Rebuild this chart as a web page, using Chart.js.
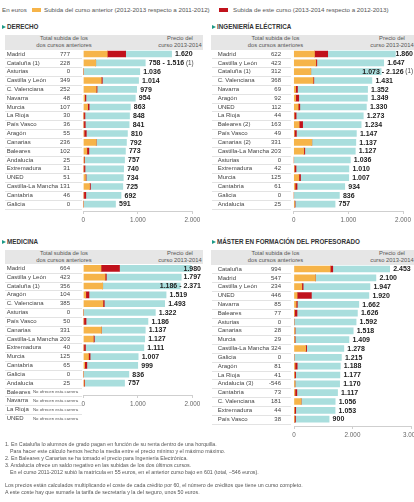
<!DOCTYPE html>
<html lang="es">
<head>
<meta charset="utf-8">
<title>Precios de matrícula</title>
<script src="https://cdn.jsdelivr.net/npm/chart.js@4.4.1/dist/chart.umd.min.js"></script>
<style>
    body { margin: 0; width: 414px; height: 502px; overflow: hidden; background: #fff; position: relative;
           font-family: "Liberation Sans", Arial, sans-serif; color: #555; }
    .t { position: absolute; white-space: nowrap; line-height: 1; }
    .leyenda { font-size: 6.2px; top: 7px; color: #555; }
    .muestra { position: absolute; top: 8px; width: 9px; height: 3.5px; }
    .titulo { font-size: 6.3px; font-weight: bold; color: #333; }
    .flecha { position: absolute; width: 0; height: 0; border-top: 2.5px solid transparent;
              border-bottom: 2.5px solid transparent; border-left: 4px solid #1e9a86; }
    .banda { position: absolute; background: #e6e6e6; }
    .cab { font-size: 5.8px; color: #555; text-align: center; }
    .panel { position: absolute; }
    .nota { font-size: 5.3px; color: #555; }
</style>
</head>
<body>

<div class="t leyenda" style="left:2px">En euros</div>
<div class="muestra" style="left:32px;background:#f6b449"></div>
<div class="t leyenda" style="left:44px">Subida del curso anterior (2012-2013 respecto a 2011-2012)</div>
<div class="muestra" style="left:219px;background:#c1121c"></div>
<div class="t leyenda" style="left:233px">Subida de este curso (2013-2014 respecto a 2012-2013)</div>

<div class="flecha" style="left:2px;top:24.5px"></div>
<div class="t titulo" style="left:7px;top:24px">DERECHO</div>
<div class="flecha" style="left:212px;top:24.5px"></div>
<div class="t titulo" style="left:217px;top:24px">INGENIERÍA ELÉCTRICA</div>
<div class="flecha" style="left:2px;top:239.5px"></div>
<div class="t titulo" style="left:7px;top:239px">MEDICINA</div>
<div class="flecha" style="left:212px;top:239.5px"></div>
<div class="t titulo" style="left:217px;top:239px">MÁSTER EN FORMACIÓN DEL PROFESORADO</div>

<div class="banda" style="left:5px;top:35px;width:198px;height:14.6px"></div>
<div class="banda" style="left:211px;top:35px;width:203px;height:14.6px"></div>
<div class="banda" style="left:5px;top:249.8px;width:198px;height:14.2px"></div>
<div class="banda" style="left:211px;top:249.8px;width:203px;height:14.8px"></div>

<div class="t cab" style="left:20px;top:36.2px;width:88px">Total subida de los</div>
<div class="t cab" style="left:20px;top:42.6px;width:88px">dos cursos anteriores</div>
<div class="t cab" style="left:150px;top:36.2px;width:60px">Precio del</div>
<div class="t cab" style="left:150px;top:42.6px;width:60px">curso 2013-2014</div>
<div class="t cab" style="left:231.5px;top:36.2px;width:88px">Total subida de los</div>
<div class="t cab" style="left:231.5px;top:42.6px;width:88px">dos cursos anteriores</div>
<div class="t cab" style="left:362px;top:36.2px;width:60px">Precio del</div>
<div class="t cab" style="left:362px;top:42.6px;width:60px">curso 2013-2014</div>

<div class="t cab" style="left:20px;top:251.2px;width:88px">Total subida de los</div>
<div class="t cab" style="left:20px;top:257.6px;width:88px">dos cursos anteriores</div>
<div class="t cab" style="left:150px;top:251.2px;width:60px">Precio del</div>
<div class="t cab" style="left:150px;top:257.6px;width:60px">curso 2013-2014</div>
<div class="t cab" style="left:231.5px;top:251.2px;width:88px">Total subida de los</div>
<div class="t cab" style="left:231.5px;top:257.6px;width:88px">dos cursos anteriores</div>
<div class="t cab" style="left:362px;top:251.2px;width:60px">Precio del</div>
<div class="t cab" style="left:362px;top:257.6px;width:60px">curso 2013-2014</div>

<canvas id="cDerecho" class="panel" width="207" height="183" style="left:0;top:46px"></canvas>
<canvas id="cIngenieria" class="panel" width="204" height="183" style="left:210px;top:46px"></canvas>
<canvas id="cMedicina" class="panel" width="207" height="163" style="left:0;top:260px"></canvas>
<canvas id="cMaster" class="panel" width="216" height="184" style="left:210px;top:260px"></canvas>

<div class="t nota" style="left:5px;top:441.6px">1. En Cataluña lo alumnos de grado pagan en función de su renta dentro de una horquilla.</div>
<div class="t nota" style="left:10px;top:448.6px">Para hacer este cálculo hemos hecho la media entre el precio mínimo y el máximo máximo.</div>
<div class="t nota" style="left:5px;top:456px">2. En Baleares y Canarias se ha tomado el precio para Ingeniería Electrónica.</div>
<div class="t nota" style="left:5px;top:463px">3. Andalucía ofrece un saldo negativo en las subidas de los dos últimos cursos.</div>
<div class="t nota" style="left:10px;top:470.3px">En el curso 2011-2012 subió la matrícula en 55 euros, en el anterior curso bajo en 601 (total, –546 euros).</div>
<div class="t nota" style="left:5px;top:483px">Los precios están calculados multiplicando el coste de cada crédito por 60, el número de créditos que tiene un curso completo.</div>
<div class="t nota" style="left:5px;top:490px">A este coste hay que sumarle la tarifa de secretaría y la del seguro, unos 50 euros.</div>

<script>
// ---- datos ----
var derechoRegiones = ['Madrid', 'Cataluña (1)', 'Asturias', 'Castilla y León', 'C. Valenciana', 'Navarra', 'Murcia', 'La Rioja', 'País Vasco', 'Aragón', 'Canarias', 'Baleares', 'Andalucía', 'Extremadura', 'UNED', 'Castilla-La Mancha', 'Cantabria', 'Galicia'];
var derechoSubidaTotal = [777, 228, 0, 349, 252, 48, 107, 30, 36, 55, 236, 102, 25, 31, 51, 131, 46, 0];
var derechoSubidaAnterior = [440, 228, 0, 330, 237, 25, 80, 5, 8, 15, 236, 65, 15, 8, 40, 115, 10, 0];
var derechoSubidaActual = [337, 0, 0, 19, 15, 23, 27, 25, 28, 40, 0, 37, 10, 23, 11, 16, 36, 0];
var derechoPrecio = [1620, 1137, 1036, 1014, 979, 954, 863, 848, 841, 810, 792, 773, 757, 740, 734, 725, 692, 591];
var derechoPrecioTexto = ['1.620', '758 - 1.516 (1)', '1.036', '1.014', '979', '954', '863', '848', '841', '810', '792', '773', '757', '740', '734', '725', '692', '591'];

var ingenieriaRegiones = ['Madrid', 'Castilla y León', 'Cataluña (1)', 'C. Valenciana', 'Navarra', 'Aragón', 'UNED', 'La Rioja', 'Baleares (2)', 'País Vasco', 'Canarias (2)', 'Castilla-La Mancha', 'Asturias', 'Extremadura', 'Murcia', 'Cantabria', 'Galicia', 'Andalucía'];
var ingenieriaSubidaTotal = [622, 423, 312, 368, 69, 92, 112, 44, 163, 49, 331, 203, 0, 42, 125, 61, 0, 25];
var ingenieriaSubidaAnterior = [380, 405, 312, 355, 35, 35, 82, 10, 100, 12, 331, 185, 0, 12, 95, 25, 0, 15];
var ingenieriaSubidaActual = [242, 18, 0, 13, 34, 57, 30, 34, 63, 37, 0, 18, 0, 30, 30, 36, 0, 10];
var ingenieriaPrecio = [1860, 1647, 1600, 1431, 1352, 1349, 1330, 1273, 1234, 1147, 1137, 1127, 1036, 1010, 1007, 934, 836, 757];
var ingenieriaPrecioTexto = ['1.860', '1.647', '1.073 - 2.126 (1)', '1.431', '1.352', '1.349', '1.330', '1.273', '1.234', '1.147', '1.137', '1.127', '1.036', '1.010', '1.007', '934', '836', '757'];

var medicinaRegiones = ['Madrid', 'Castilla y León', 'Cataluña (1)', 'Aragón', 'C. Valenciana', 'Asturias', 'País Vasco', 'Canarias', 'Castilla-La Mancha', 'Extremadura', 'Murcia', 'Cantabria', 'Galicia', 'Andalucía', 'Baleares', 'Navarra', 'La Rioja', 'UNED'];
var medicinaSubidaTotal = [664, 423, 356, 104, 385, 0, 50, 331, 203, 40, 125, 65, 0, 25, null, null, null, null];
var medicinaSubidaAnterior = [325, 400, 356, 45, 360, 0, 10, 331, 185, 10, 95, 25, 0, 15, null, null, null, null];
var medicinaSubidaActual = [339, 23, 0, 59, 25, 0, 40, 0, 18, 30, 30, 40, 0, 10, null, null, null, null];
var medicinaPrecio = [1980, 1797, 1779, 1519, 1493, 1322, 1186, 1137, 1127, 1111, 1007, 999, 836, 757, null, null, null, null];
var medicinaPrecioTexto = ['1.980', '1.797', '1.186 - 2.371', '1.519', '1.493', '1.322', '1.186', '1.137', '1.127', '1.111', '1.007', '999', '836', '757', '', '', '', ''];

var masterRegiones = ['Cataluña', 'Madrid', 'Castilla y León', 'UNED', 'Navarra', 'Baleares', 'Asturias', 'Canarias', 'Murcia', 'Castilla-La Mancha', 'Galicia', 'Aragón', 'La Rioja', 'Andalucía (3)', 'Cantabria', 'C. Valenciana', 'Extremadura', 'País Vasco'];
var masterSubidaTotal = [994, 547, 234, 446, 85, 77, 0, 28, 29, 324, 0, 81, 41, -546, 73, 181, 44, 38];
var masterSubidaAnterior = [930, 547, 200, 80, 55, 7, 0, 20, 5, 300, 0, 25, 10, 25, 25, 181, 10, 8];
var masterSubidaActual = [64, 0, 34, 366, 30, 70, 0, 8, 24, 24, 0, 56, 31, 0, 48, 0, 34, 30];
var masterPrecio = [2453, 2100, 1947, 1920, 1662, 1626, 1592, 1518, 1409, 1278, 1215, 1188, 1177, 1170, 1117, 1056, 1053, 900];
var masterPrecioTexto = ['2.453', '2.100', '1.947', '1.920', '1.662', '1.626', '1.592', '1.518', '1.409', '1.278', '1.215', '1.188', '1.177', '1.170', '1.117', '1.056', '1.053', '900'];

var ticksDosMil = [0, 1000, 2000];
var ticksDosMilTexto = ['0', '1.000', '2.000'];
var ticksMaster = [0, 1500, 3000];
var ticksMasterTexto = ['0', '2.000', '3.000'];

(function () {
    var COLOR_ANTERIOR = '#f6b449';
    var COLOR_ACTUAL = '#c1121c';
    var COLOR_PRECIO = '#a9dedd';
    var ALTO_FILA = 8.83;
    var FUENTE = '"Liberation Sans", Arial, sans-serif';

    var pluginTabla = {
        id: 'tabla',
        afterDraw: function (chart) {
            var op = chart.options.plugins.tabla;
            var ctx = chart.ctx;
            var escalaY = chart.scales.y;
            var escalaX = chart.scales.x;

            ctx.save();
            ctx.textBaseline = 'middle';

            op.regiones.forEach(function (region, i) {
                var py = escalaY.getPixelForValue(i);
                var linea = Math.round(py + ALTO_FILA / 2) + 0.5;

                ctx.strokeStyle = '#e3e3e3';
                ctx.lineWidth = 1;
                ctx.beginPath();
                ctx.moveTo(op.xLineaIni, linea);
                ctx.lineTo(op.xLineaFin, linea);
                ctx.stroke();

                ctx.fillStyle = '#444';
                ctx.font = '6px ' + FUENTE;
                ctx.textAlign = 'left';
                ctx.fillText(region, op.xNombre, py);

                if (op.totales[i] === null) {
                    ctx.font = '4.3px ' + FUENTE;
                    ctx.fillStyle = '#555';
                    ctx.fillText('No ofrecen esta carrera', op.xNoOfrece, py);
                    return;
                }

                ctx.textAlign = 'right';
                ctx.fillText(String(op.totales[i]), op.xTotal, py);

                var partes = op.textos[i].split(' (');
                var principal = partes[0];
                var nota = partes.length > 1 ? ' (' + partes[1] : '';

                ctx.font = 'bold 7px ' + FUENTE;
                var anchoP = ctx.measureText(principal).width;
                ctx.font = '6.3px ' + FUENTE;
                var anchoN = nota ? ctx.measureText(nota).width : 0;

                var px = escalaX.getPixelForValue(op.precios[i]) + 3.5;
                if (px + anchoP + anchoN > op.xMaxEtiqueta) {
                    px = op.xMaxEtiqueta - anchoP - anchoN;
                }

                ctx.textAlign = 'left';
                ctx.fillStyle = '#222';
                ctx.font = 'bold 7px ' + FUENTE;
                ctx.fillText(principal, px, py + 0.3);
                if (nota) {
                    ctx.fillStyle = '#444';
                    ctx.font = '6.3px ' + FUENTE;
                    ctx.fillText(nota, px + anchoP, py);
                }
            });

            ctx.restore();
        }
    };

    function puntos(valores) {
        var lista = [];
        valores.forEach(function (v, i) {
            if (v !== null) {
                lista.push({ x: v, y: i });
            }
        });
        return lista;
    }

    function crearPanel(idCanvas, regiones, totales, anterior, actual, precios, textos, ticks, ticksTexto, geo) {
        var canvas = document.getElementById(idCanvas);
        var altoArea = canvas.height - geo.padTop - geo.altoEje;

        var resto = precios.map(function (p, i) {
            return p === null ? null : p - anterior[i] - actual[i];
        });

        function serie(etiqueta, valores, color) {
            return {
                label: etiqueta,
                data: puntos(valores),
                backgroundColor: color,
                borderWidth: 0,
                barThickness: 6
            };
        }

        return new Chart(canvas.getContext('2d'), {
            type: 'bar',
            data: {
                datasets: [
                    serie('Subida del curso anterior', anterior, COLOR_ANTERIOR),
                    serie('Subida de este curso', actual, COLOR_ACTUAL),
                    serie('Precio del curso 2013-2014', resto, COLOR_PRECIO)
                ]
            },
            options: {
                indexAxis: 'y',
                responsive: false,
                animation: false,
                layout: {
                    padding: { top: geo.padTop, left: geo.padIzq, right: geo.padDer, bottom: 0 }
                },
                plugins: {
                    legend: { display: false },
                    tooltip: { enabled: false },
                    tabla: {
                        regiones: regiones,
                        totales: totales,
                        precios: precios,
                        textos: textos,
                        xNombre: geo.xNombre,
                        xTotal: geo.xTotal,
                        xLineaIni: geo.xLineaIni,
                        xLineaFin: geo.xLineaFin,
                        xNoOfrece: geo.xNoOfrece,
                        xMaxEtiqueta: geo.xMaxEtiqueta
                    }
                },
                scales: {
                    y: {
                        type: 'linear',
                        reverse: true,
                        stacked: true,
                        offset: false,
                        grid: { offset: false },
                        min: -0.5,
                        max: altoArea / ALTO_FILA - 0.5,
                        display: false
                    },
                    x: {
                        type: 'linear',
                        stacked: true,
                        offset: false,
                        min: 0,
                        max: ticks[ticks.length - 1],
                        afterFit: function (escala) {
                            escala.height = geo.altoEje;
                        },
                        afterBuildTicks: function (escala) {
                            escala.ticks = ticks.map(function (v) { return { value: v }; });
                        },
                        ticks: {
                            callback: function (valor, indice) {
                                return ticksTexto[indice];
                            },
                            font: { family: FUENTE, size: 6.3 },
                            color: '#666',
                            padding: 2,
                            maxRotation: 0,
                            autoSkip: false
                        },
                        grid: { drawOnChartArea: false, tickLength: 3, color: '#cfcfcf' },
                        border: { color: '#cfcfcf' }
                    }
                }
            },
            plugins: [pluginTabla]
        });
    }

    var geoIzq = { padIzq: 83.3, padDer: 14.7, xNombre: 6.7, xTotal: 70, xLineaIni: 5, xLineaFin: 82, xNoOfrece: 33, xMaxEtiqueta: 201 };
    var geoDer = { padIzq: 83.7, padDer: 11, xNombre: 7.7, xTotal: 71, xLineaIni: 2, xLineaFin: 81, xNoOfrece: 34, xMaxEtiqueta: 203 };

    crearPanel('cDerecho', derechoRegiones, derechoSubidaTotal, derechoSubidaAnterior, derechoSubidaActual,
        derechoPrecio, derechoPrecioTexto, ticksDosMil, ticksDosMilTexto,
        Object.assign({}, geoIzq, { padTop: 3.6, altoEje: 18 }));

    crearPanel('cIngenieria', ingenieriaRegiones, ingenieriaSubidaTotal, ingenieriaSubidaAnterior, ingenieriaSubidaActual,
        ingenieriaPrecio, ingenieriaPrecioTexto, ticksDosMil, ticksDosMilTexto,
        Object.assign({}, geoDer, { padTop: 3.6, altoEje: 18 }));

    crearPanel('cMedicina', medicinaRegiones, medicinaSubidaTotal, medicinaSubidaAnterior, medicinaSubidaActual,
        medicinaPrecio, medicinaPrecioTexto, ticksDosMil, ticksDosMilTexto,
        Object.assign({}, geoIzq, { padTop: 3.9, altoEje: 28 }));

    crearPanel('cMaster', masterRegiones, masterSubidaTotal, masterSubidaAnterior, masterSubidaActual,
        masterPrecio, masterPrecioTexto, ticksMaster, ticksMasterTexto,
        Object.assign({}, geoDer, { padTop: 4.6, altoEje: 18, padIzq: 84, padDer: 15, xMaxEtiqueta: 210 }));
})();
</script>
</body>
</html>
